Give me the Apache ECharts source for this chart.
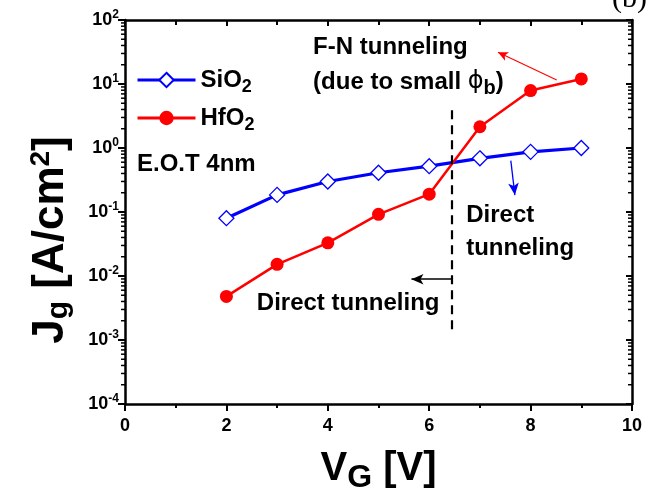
<!DOCTYPE html>
<html>
<head>
<meta charset="utf-8">
<script src="https://cdn.jsdelivr.net/npm/echarts@6/dist/echarts.min.js"></script>
<style>
  html, body { margin: 0; padding: 0; background: #fff; }
  #chart { width: 646px; height: 500px; }
</style>
</head>
<body>
<div id="chart"></div>
<script>
// Gate leakage current density vs gate voltage, EOT 4 nm
const gateVoltage = [2, 3, 4, 5, 6, 7, 8, 9];
const sio2Current = [0.080, 0.185, 0.30, 0.41, 0.52, 0.69, 0.87, 1.0];
const hfo2Current = [0.0048, 0.0152, 0.033, 0.092, 0.19, 2.15, 7.9, 12.0];
const seriesNames = ['SiO2', 'HfO2'];
const xTickLabels = ['0', '2', '4', '6', '8', '10'];
const yTickExponents = [-4, -3, -2, -1, 0, 1, 2];

const FONT = "'Liberation Sans', Arial, Helvetica, sans-serif";
const BLACK = '#000';
const BLUE = '#0000ff';
const RED = '#ff0000';
const X_MIN = 0, X_MAX = 10;

const toPairs = (xs, ys) => xs.map((x, i) => [x, ys[i]]);

function bold(size, extra) {
  return Object.assign({ fontFamily: FONT, fontWeight: 'bold', fontSize: size, color: BLACK }, extra || {});
}

function decadeLabel(v) {
  const e = Math.round(Math.log10(v));
  if (!yTickExponents.includes(e)) return '';
  return '{b|10}{s|' + e + '}';
}

const decadeRich = {
  b: bold(18),
  s: bold(12, { padding: [0, 0, 11, 0] })
};

// log-axis minor tick positions: 2..9 within every decade
const minorTickValues = [];
for (let i = 0; i < yTickExponents.length - 1; i++) {
  for (let m = 2; m <= 9; m++) {
    minorTickValues.push([X_MIN, m * Math.pow(10, yTickExponents[i])]);
  }
}

const chart = echarts.init(document.getElementById('chart'), null, { renderer: 'canvas' });

// annotation text anchored in data space
function note(x, y, text, rich, extra) {
  return {
    coord: [x, y],
    symbol: 'circle',
    symbolSize: 0,
    label: Object.assign({
      show: true,
      position: 'right',
      distance: 0,
      formatter: text,
      align: 'left',
      verticalAlign: 'middle',
      fontFamily: FONT,
      fontWeight: 'bold',
      fontSize: 24,
      color: BLACK,
      rich: rich || {}
    }, extra || {})
  };
}

function arrow(from, to, color, width, head) {
  return [
    { coord: from, symbol: 'none', lineStyle: { color: color, width: width, type: 'solid' } },
    { coord: to, symbol: 'arrow', symbolSize: head || [8, 12] }
  ];
}

const option = {
  animation: false,
  backgroundColor: '#fff',
  grid: { left: 125, right: 14, top: 20, bottom: 96 },
  legend: {
    data: seriesNames,
    orient: 'vertical',
    left: 131,
    top: 63,
    itemWidth: 58,
    itemHeight: 18,
    itemGap: 10,
    selectedMode: false,
    lineStyle: { width: 3 },
    formatter: n => n.replace(/2$/, '{s|2}'),
    textStyle: bold(24, {
      rich: { s: bold(18, { padding: [14, 0, 0, 0] }) }
    })
  },
  xAxis: [
    {
      type: 'value', position: 'bottom', min: X_MIN, max: X_MAX, interval: 2,
      axisLine: { show: true, onZero: false, lineStyle: { color: BLACK, width: 2.5 } },
      axisTick: { show: true, inside: false, length: 7, lineStyle: { color: BLACK, width: 2 } },
      minorTick: { show: true, splitNumber: 2, length: 4, lineStyle: { color: BLACK, width: 2 } },
      axisLabel: {
        formatter: v => (xTickLabels.includes(String(v)) ? String(v) : ''),
        margin: 13, fontFamily: FONT, fontWeight: 'bold', fontSize: 18, color: BLACK
      },
      splitLine: { show: false },
      minorSplitLine: { show: false },
      name: '{v|V}{g|G}{v| [V]}',
      nameLocation: 'middle',
      nameGap: 40,
      nameTextStyle: {
        rich: {
          v: bold(40),
          g: bold(32, { padding: [18, 0, 0, 0] })
        }
      }
    },
    {
      type: 'value', position: 'top', min: X_MIN, max: X_MAX, interval: 2,
      axisLine: { show: true, onZero: false, lineStyle: { color: BLACK, width: 2.5 } },
      axisTick: { show: true, inside: true, length: 6, lineStyle: { color: BLACK, width: 2 } },
      minorTick: { show: true, splitNumber: 2, length: 5, lineStyle: { color: BLACK, width: 2 } },
      axisLabel: { show: false },
      splitLine: { show: false },
      minorSplitLine: { show: false }
    }
  ],
  yAxis: [
    {
      type: 'log', logBase: 10, position: 'left', min: 1e-4, max: 100, interval: 1,
      axisLine: { show: true, onZero: false, lineStyle: { color: BLACK, width: 2.5 } },
      axisTick: { show: true, inside: false, length: 7, lineStyle: { color: BLACK, width: 2 } },
      axisLabel: { formatter: decadeLabel, margin: 6, rich: decadeRich },
      splitLine: { show: false },
      name: '{j|J}{g|g}{j| [A/cm}{s|2}{j|]}',
      nameLocation: 'middle',
      nameRotate: 90,
      nameGap: 50,
      nameTextStyle: {
        padding: [0, 56, 0, 0],
        rich: {
          j: bold(44),
          g: bold(30, { padding: [16, 0, 0, 0] }),
          s: bold(28, { padding: [0, 0, 20, 0] })
        }
      }
    },
    {
      type: 'log', logBase: 10, position: 'right', min: 1e-4, max: 100, interval: 1,
      axisLine: { show: true, onZero: false, lineStyle: { color: BLACK, width: 2.5 } },
      axisTick: { show: true, inside: true, length: 6, lineStyle: { color: BLACK, width: 2 } },
      axisLabel: { show: false },
      splitLine: { show: false }
    }
  ],
  series: [
    {
      // minor ticks on both log axes
      name: 'minorTicks',
      type: 'custom',
      xAxisIndex: 0, yAxisIndex: 0,
      data: minorTickValues,
      clip: false,
      silent: true,
      z: 6,
      renderItem: function (params, api) {
        const v = api.value(1);
        const l = api.coord([X_MIN, v]);
        const r = api.coord([X_MAX, v]);
        const st = { stroke: BLACK, lineWidth: 1.5 };
        return {
          type: 'group',
          children: [
            { type: 'line', shape: { x1: l[0] - 4, y1: l[1], x2: l[0], y2: l[1] }, style: st },
            { type: 'line', shape: { x1: r[0] - 4, y1: r[1], x2: r[0], y2: r[1] }, style: st }
          ]
        };
      }
    },
    {
      name: 'SiO2',
      type: 'line',
      xAxisIndex: 0, yAxisIndex: 0,
      data: toPairs(gateVoltage, sio2Current),
      symbol: 'diamond',
      symbolSize: 15,
      itemStyle: { color: '#fff', borderColor: BLUE, borderWidth: 1.3 },
      lineStyle: { color: BLUE, width: 3.2 },
      emphasis: { disabled: true },
      z: 3
    },
    {
      name: 'HfO2',
      type: 'line',
      xAxisIndex: 0, yAxisIndex: 0,
      data: toPairs(gateVoltage, hfo2Current),
      symbol: 'circle',
      symbolSize: 13,
      itemStyle: { color: RED },
      lineStyle: { color: RED, width: 2.5 },
      emphasis: { disabled: true },
      z: 4
    },
    {
      name: 'notes',
      type: 'line',
      xAxisIndex: 0, yAxisIndex: 0,
      data: [],
      silent: true,
      z: 5,
      markLine: {
        silent: true,
        symbol: ['none', 'arrow'],
        label: { show: false },
        emphasis: { disabled: true },
        data: [
          [
            { coord: [6.44, 3.9], symbol: 'none', lineStyle: { color: BLACK, width: 2.2, type: [9, 6] } },
            { coord: [6.44, 0.0012], symbol: 'none' }
          ],
          arrow([6.44, 0.0089], [5.65, 0.0089], BLACK, 1.6),
          arrow([7.61, 0.634], [7.69, 0.184], BLUE, 1.3),
          arrow([8.515, 11.5], [7.357, 31.3], RED, 1.1, [7, 10])
        ]
      },
      markPoint: {
        silent: true,
        emphasis: { disabled: true },
        data: [
          note(3.71, 37.8, 'F-N tunneling'),
          note(3.71, 10.7, '(due to small {phi|ϕ}{sub|b})', {
            phi: { fontFamily: "'DejaVu Sans', sans-serif", fontWeight: 'normal', fontSize: 24, color: BLACK },
            sub: bold(20, { padding: [12, 0, 0, 0] })
          }),
          note(0.237, 0.562, 'E.O.T 4nm'),
          note(2.60, 0.0038, 'Direct tunneling'),
          note(6.73, 0.0496, 'Direct\ntunneling', null, { lineHeight: 33 })
        ]
      }
    }
  ],
  graphic: [
    {
      type: 'text',
      left: 612,
      top: -16,
      silent: true,
      style: { text: '(b)', fontFamily: "'Liberation Serif', 'Times New Roman', serif", fontSize: 30, fill: BLACK }
    }
  ]
};

chart.setOption(option);
</script>
</body>
</html>
